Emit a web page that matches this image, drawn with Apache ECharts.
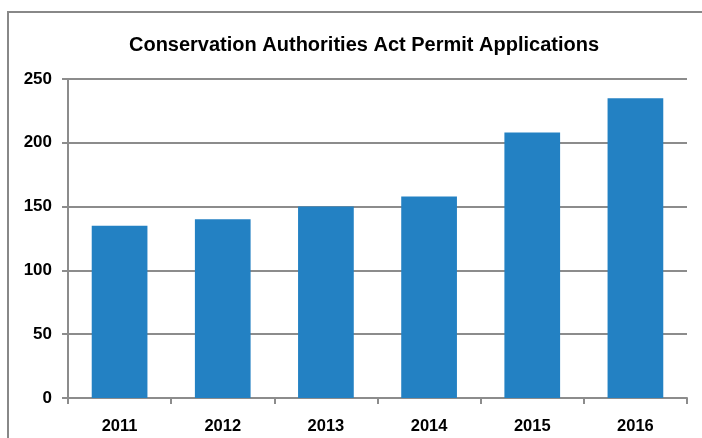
<!DOCTYPE html>
<html>
<head>
<meta charset="utf-8">
<script src="https://cdn.jsdelivr.net/npm/echarts@6/dist/echarts.min.js"></script>
<style>
html,body{margin:0;padding:0;background:#fff;}
#chart{width:702px;height:438px;}
</style>
</head>
<body>
<div id="chart"></div>
<script>
const titleText = 'Conservation Authorities Act Permit Applications';
const categories = ['2011', '2012', '2013', '2014', '2015', '2016'];
const applications = [135, 140, 150, 158, 208, 235];
const yTicks = [0, 50, 100, 150, 200, 250];

const chart = echarts.init(document.getElementById('chart'), null, {renderer: 'canvas'});
const FONT = '"Liberation Sans", Arial, sans-serif';
chart.setOption({
  animation: false,
  backgroundColor: '#ffffff',
  title: {
    text: titleText,
    left: 359,
    top: 30,
    textAlign: 'center',
    textStyle: {fontFamily: FONT, fontWeight: 'bold', fontSize: 20, color: '#000'}
  },
  graphic: [{
    type: 'polyline',
    shape: {points: [[8, 440], [8, 12], [704, 12]]},
    style: {stroke: '#888888', lineWidth: 2, fill: null},
    silent: true
  }],
  grid: {left: 68, right: 15, top: 79, bottom: 40, containLabel: false},
  xAxis: {
    type: 'category',
    data: categories,
    axisLine: {show: true, lineStyle: {color: '#8c8c8c', width: 2}},
    axisTick: {show: true, length: 6, alignWithLabel: false, lineStyle: {color: '#8c8c8c', width: 2}},
    axisLabel: {fontFamily: FONT, fontWeight: 'bold', fontSize: 16.5, color: '#000', margin: 20}
  },
  yAxis: {
    type: 'value',
    min: yTicks[0],
    max: yTicks[yTicks.length - 1],
    interval: 50,
    axisLine: {show: true, lineStyle: {color: '#8c8c8c', width: 2}},
    axisTick: {show: true, length: 6, lineStyle: {color: '#8c8c8c', width: 2}},
    axisLabel: {fontFamily: FONT, fontWeight: 'bold', fontSize: 17, color: '#000', margin: 16},
    splitLine: {show: true, lineStyle: {color: '#8c8c8c', width: 2}}
  },
  series: [{
    type: 'bar',
    data: applications,
    barWidth: '54%',
    itemStyle: {color: '#2381c3'}
  }]
});
</script>
</body>
</html>
